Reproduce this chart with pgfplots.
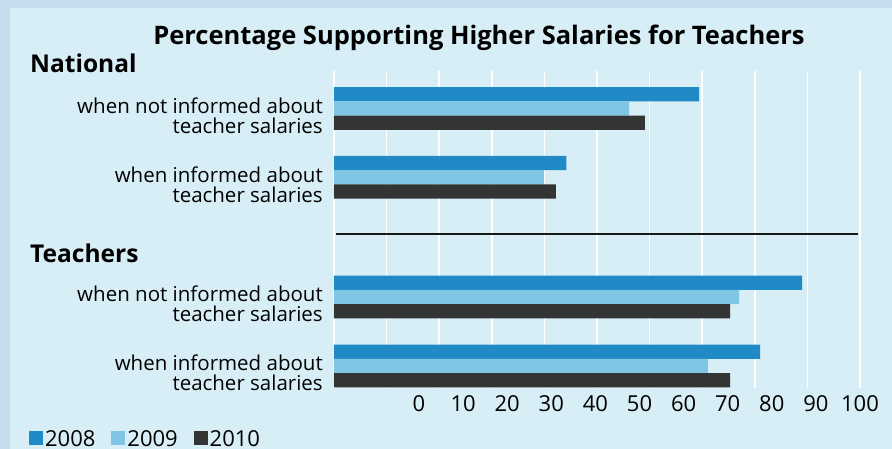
\documentclass[border=0pt]{standalone}
\usepackage{fontspec}
\setmainfont{Open Sans}
\usepackage{pgfplots}
\pgfplotsset{compat=1.18}
\definecolor{outerbg}{HTML}{C6DDF0}
\definecolor{innerbg}{HTML}{D8EEF6}
\definecolor{c2008}{HTML}{1F8AC6}
\definecolor{c2009}{HTML}{7EC6E3}
\definecolor{c2010}{HTML}{333535}
\begin{document}
\begin{tikzpicture}
\fill[outerbg] (0pt,0pt) rectangle (892pt,449pt);
\fill[innerbg] (10pt,0pt) rectangle (892pt,441pt);
\begin{axis}[
  at={(334pt,61pt)}, anchor=south west,
  scale only axis, width=526pt, height=317pt,
  xmin=0, xmax=100, ymin=71, ymax=388, y dir=reverse,
  axis line style={draw=none},
  major tick length=0pt,
  xbar, bar width=14.3,
  /pgf/number format/assume math mode=true,
  xtick={16.16,24.54,32.93,41.31,49.70,58.08,66.46,74.85,83.23,91.62,100},
  xticklabels={0,10,20,30,40,50,60,70,80,90,100},
  xticklabel style={font=\fontsize{22}{22}\selectfont, anchor=base, inner sep=0pt, yshift=-23pt},
  extra x ticks={0,10,...,100},
  extra x tick labels={},
  extra x tick style={grid=major},
  major grid style={white, line width=1.5pt},
  ytick={108.5,177.3,297,366},
  yticklabels={{when not informed about\\teacher salaries},{when informed about\\teacher salaries},{when not informed about\\teacher salaries},{when informed about\\teacher salaries}},
  yticklabel style={font=\fontsize{20.5}{20}\selectfont, align=right, anchor=east, inner sep=0pt, xshift=-11pt, yshift=-7pt},
  legend columns=3,
  legend style={at={(axis description cs:-0.58,-0.158)}, anchor=west, draw=none, fill=none, inner sep=0pt,
    font=\fontsize{22}{22}\selectfont, /tikz/every even column/.style={column sep=14pt},
    nodes={inner xsep=2pt, inner ysep=0pt, text depth=0pt}},
  legend image code/.code={\fill[#1, draw=none] (0pt,-7pt) rectangle (14pt,7pt);},
]
\addplot[fill=c2008, draw=none, bar shift=-14.3] coordinates {(69.4,108.5) (44.2,177.3) (89.0,297) (81.0,366)};
\addplot[fill=c2009, draw=none, bar shift=0] coordinates {(56.1,108.5) (39.9,177.3) (77.0,297) (71.1,366)};
\addplot[fill=c2010, draw=none, bar shift=14.3] coordinates {(59.1,108.5) (42.2,177.3) (75.3,297) (75.3,366)};
\legend{2008,2009,2010}
\draw[line width=2pt, black!90] (axis cs:0.4,234.3) -- (axis cs:99.6,234.3);
\end{axis}
\node[anchor=base, font=\fontsize{25.5}{26}\selectfont\bfseries, inner sep=0pt] at (479pt,404pt) {Percentage Supporting Higher Salaries for Teachers};
\node[anchor=base west, font=\fontsize{24.5}{25}\selectfont\bfseries, inner sep=0pt] at (30pt,376pt) {National};
\node[anchor=base west, font=\fontsize{24.5}{25}\selectfont\bfseries, inner sep=0pt] at (30pt,186.3pt) {Teachers};
\pgfresetboundingbox
\path[use as bounding box] (0pt,0pt) rectangle (892pt,449pt);
\end{tikzpicture}
\end{document}
